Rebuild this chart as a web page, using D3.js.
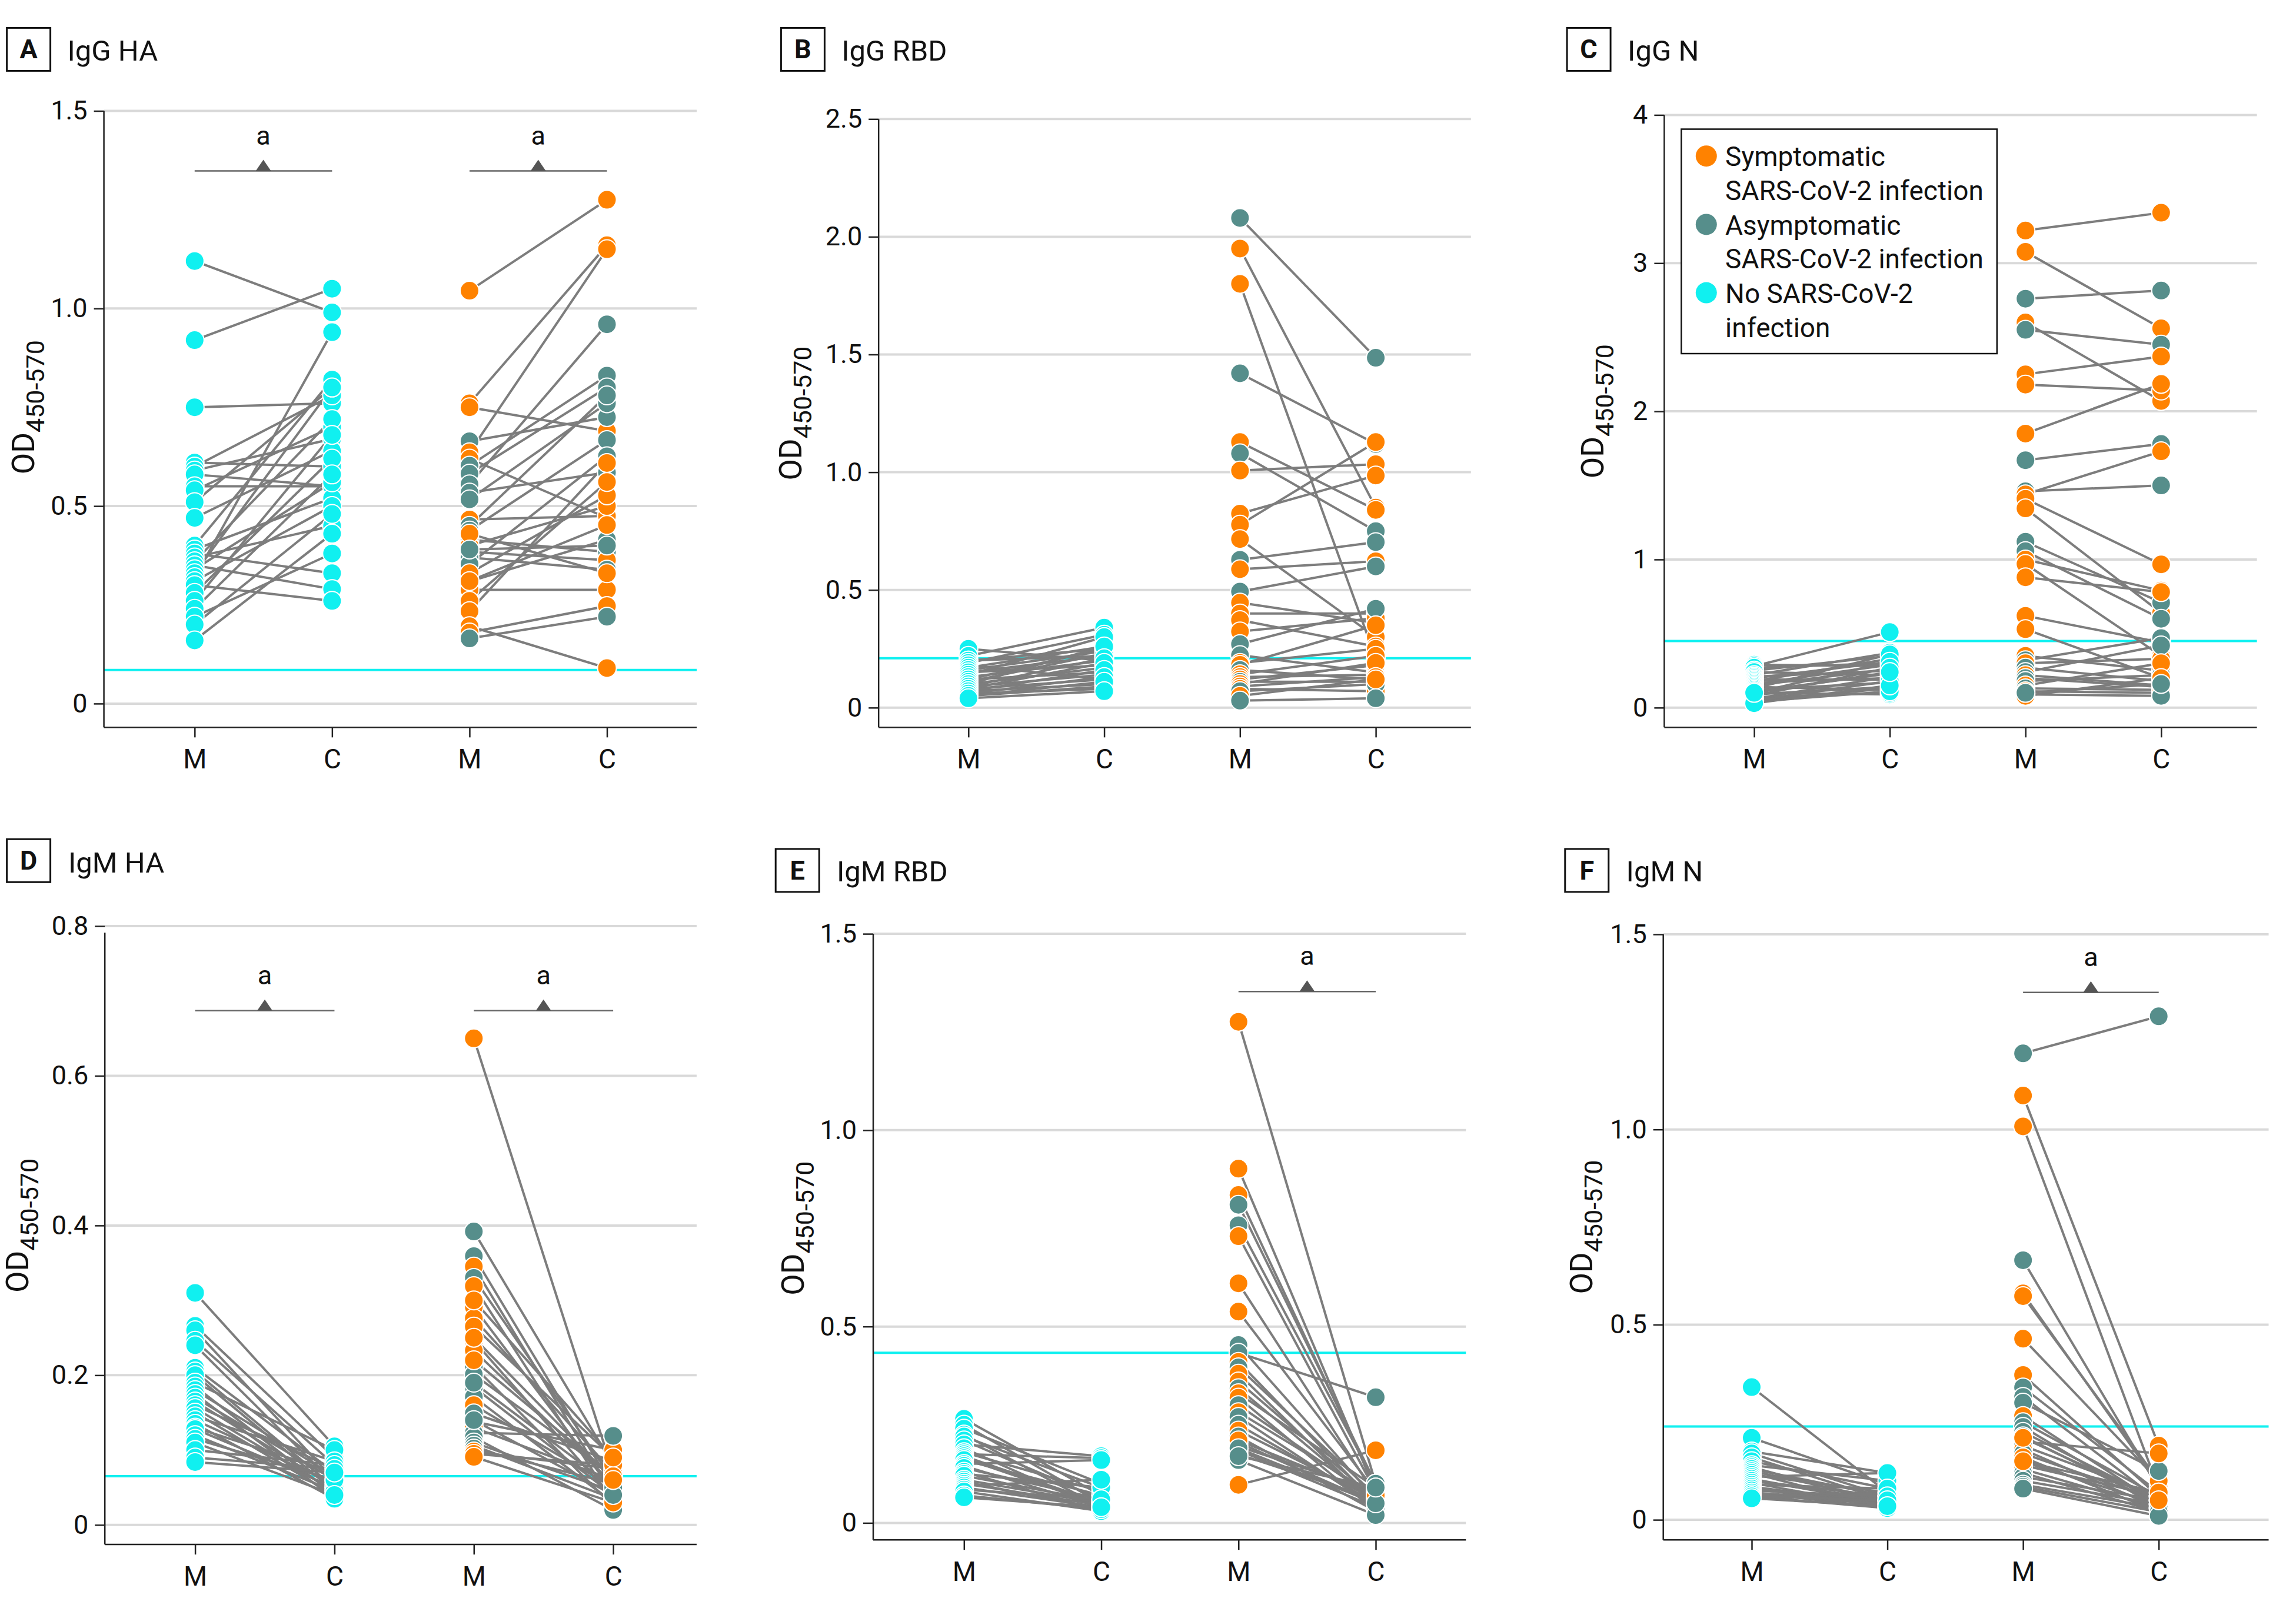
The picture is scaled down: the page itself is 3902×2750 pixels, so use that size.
<!DOCTYPE html>
<html><head><meta charset="utf-8">
<script src="https://cdn.jsdelivr.net/npm/d3@7"></script>
<style>body{margin:0;background:#fff} text{font-family:Roboto,"Noto Sans",sans-serif}</style>
</head><body><svg id="chart" width="3902" height="2750"></svg>
<script>
// ---------------- DATA ----------------
const panelLetters = ["A","B","C","D","E","F"];
const panelTitles = ["IgG HA","IgG RBD","IgG N","IgM HA","IgM RBD","IgM N"];
const yMaxes = [1.5, 2.5, 4, 0.8, 1.5, 1.5];
const yTickValues = [[0,0.5,1,1.5],[0,0.5,1,1.5,2,2.5],[0,1,2,3,4],[0,0.2,0.4,0.6,0.8],[0,0.5,1,1.5],[0,0.5,1,1.5]];
const cutoffs = [0.085, 0.21, 0.45, 0.065, 0.433, 0.239];
const sigLeft = [true,false,false,true,false,false];
const sigRight = [true,false,false,true,true,true];
const sigLevels = [1.348, null, null, 0.687, 1.353, 1.351];
const xCategories = ["M1","C1","M2","C2"];
const xLabels = ["M","C","M","C"];
const legendLabels = [["Symptomatic","SARS-CoV-2 infection"],["Asymptomatic","SARS-CoV-2 infection"],["No SARS-CoV-2","infection"]];
const legendGroups = ["S","A","N"];

// A IgG HA
const aNoM = [1.12,0.92,0.75,0.61,0.60,0.59,0.58,0.55,0.54,0.51,0.47,0.40,0.39,0.38,0.37,0.36,0.35,0.34,0.33,0.32,0.31,0.30,0.28,0.26,0.24,0.22,0.20,0.16];
const aNoC = [0.99,1.05,0.76,0.60,0.78,0.67,0.55,0.55,0.70,0.80,0.64,0.82,0.52,0.33,0.45,0.72,0.29,0.56,0.80,0.94,0.50,0.26,0.62,0.68,0.58,0.38,0.48,0.43];
const aInfM = [1.045,0.76,0.75,0.664,0.636,0.62,0.602,0.582,0.555,0.534,0.517,0.466,0.45,0.438,0.415,0.40,0.384,0.37,0.353,0.33,0.309,0.288,0.26,0.234,0.196,0.18,0.165,0.43,0.39,0.31];
const aInfC = [1.275,1.16,0.69,0.725,1.15,0.47,0.83,0.80,0.96,0.585,0.76,0.475,0.78,0.667,0.384,0.50,0.363,0.339,0.626,0.527,0.415,0.288,0.561,0.609,0.09,0.247,0.22,0.33,0.40,0.452];
const aInfG = ["S","S","S","A","S","S","A","A","A","A","A","S","A","A","A","S","S","A","A","S","A","S","S","S","S","S","A","S","A","S"];
// B IgG RBD
const bNoM = [0.25,0.22,0.20,0.20,0.19,0.18,0.17,0.16,0.15,0.15,0.14,0.13,0.12,0.12,0.11,0.10,0.10,0.09,0.09,0.08,0.08,0.07,0.07,0.06,0.06,0.05,0.05,0.04];
const bNoC = [0.20,0.34,0.22,0.25,0.31,0.12,0.26,0.24,0.22,0.18,0.30,0.20,0.25,0.15,0.23,0.17,0.26,0.21,0.14,0.12,0.19,0.10,0.16,0.08,0.13,0.09,0.11,0.07];
const bInfM = [2.08,1.95,1.80,1.42,1.128,1.08,1.007,0.824,0.777,0.716,0.628,0.588,0.493,0.446,0.40,0.372,0.324,0.27,0.223,0.19,0.182,0.16,0.142,0.13,0.12,0.11,0.101,0.09,0.08,0.07,0.05,0.03];
const bInfC = [1.486,0.85,0.21,1.12,0.84,0.75,1.034,0.986,1.128,0.30,0.703,0.622,0.60,0.36,0.40,0.26,0.38,0.42,0.15,0.25,0.35,0.12,0.22,0.14,0.18,0.11,0.19,0.13,0.07,0.10,0.12,0.04];
const bInfG = ["A","S","S","A","S","A","S","S","S","S","A","S","A","S","S","S","S","A","A","S","S","A","S","S","S","A","S","S","S","A","S","A"];
// C IgG N
const cNoM = [0.29,0.28,0.27,0.25,0.24,0.22,0.21,0.20,0.19,0.18,0.17,0.16,0.15,0.14,0.13,0.12,0.11,0.10,0.10,0.09,0.08,0.07,0.06,0.05,0.05,0.04,0.03,0.10];
const cNoC = [0.28,0.51,0.30,0.35,0.22,0.37,0.25,0.31,0.19,0.33,0.20,0.29,0.26,0.12,0.36,0.17,0.23,0.09,0.31,0.14,0.27,0.10,0.21,0.18,0.13,0.11,0.15,0.24];
const cInfM = [3.22,3.076,2.76,2.60,2.55,2.25,2.18,1.85,1.67,1.46,1.44,1.41,1.345,1.12,1.056,1.0,0.97,0.88,0.62,0.53,0.35,0.32,0.30,0.27,0.24,0.22,0.20,0.18,0.15,0.13,0.11,0.09,0.08,0.10];
const cInfC = [3.34,2.56,2.815,2.07,2.45,2.37,2.14,2.185,1.78,1.50,1.73,0.967,0.64,0.71,0.60,0.79,0.35,0.78,0.44,0.20,0.25,0.47,0.33,0.18,0.42,0.15,0.14,0.22,0.30,0.12,0.10,0.08,0.20,0.16];
const cInfG = ["S","S","A","S","A","S","S","S","A","A","S","S","S","A","A","S","S","S","S","S","S","A","S","A","A","S","A","A","S","A","S","A","S","A"];
// D IgM HA
const dNoM = [0.31,0.266,0.26,0.246,0.24,0.21,0.205,0.20,0.19,0.185,0.18,0.175,0.17,0.165,0.16,0.156,0.15,0.145,0.14,0.135,0.13,0.128,0.12,0.115,0.11,0.10,0.09,0.084];
const dNoC = [0.105,0.09,0.06,0.08,0.055,0.07,0.05,0.045,0.1,0.04,0.065,0.035,0.06,0.05,0.075,0.045,0.04,0.085,0.055,0.035,0.07,0.05,0.045,0.06,0.04,0.08,0.075,0.07];
const dInfM = [0.65,0.392,0.359,0.345,0.33,0.319,0.291,0.276,0.265,0.246,0.233,0.212,0.201,0.184,0.171,0.16,0.149,0.138,0.13,0.123,0.117,0.11,0.106,0.102,0.098,0.095,0.091,0.19,0.22,0.14,0.25,0.30];
const dInfC = [0.07,0.08,0.05,0.04,0.06,0.03,0.045,0.07,0.09,0.035,0.055,0.025,0.065,0.04,0.03,0.05,0.085,0.10,0.06,0.119,0.02,0.045,0.035,0.055,0.075,0.08,0.03,0.05,0.065,0.04,0.06,0.09];
const dInfG = ["S","A","A","S","A","S","S","S","S","S","S","A","A","A","A","S","A","S","S","A","A","A","A","A","S","S","S","A","S","A","S","S"];
// E IgM RBD
const eNoM = [0.265,0.25,0.24,0.225,0.22,0.21,0.2,0.19,0.18,0.175,0.17,0.165,0.16,0.15,0.145,0.14,0.13,0.125,0.12,0.11,0.105,0.1,0.095,0.09,0.085,0.08,0.07,0.065];
const eNoC = [0.07,0.05,0.1,0.04,0.09,0.06,0.17,0.035,0.08,0.165,0.05,0.045,0.07,0.16,0.04,0.06,0.03,0.09,0.055,0.05,0.035,0.045,0.11,0.04,0.06,0.03,0.035,0.04];
const eInfM = [1.276,0.902,0.835,0.81,0.758,0.73,0.61,0.538,0.453,0.433,0.41,0.396,0.38,0.36,0.343,0.33,0.319,0.30,0.282,0.27,0.25,0.235,0.22,0.205,0.195,0.185,0.175,0.16,0.097,0.21,0.19,0.17];
const eInfC = [0.10,0.08,0.09,0.10,0.10,0.08,0.07,0.08,0.06,0.32,0.05,0.07,0.04,0.06,0.05,0.09,0.03,0.06,0.07,0.04,0.05,0.06,0.03,0.05,0.08,0.04,0.06,0.02,0.185,0.07,0.05,0.09];
const eInfG = ["S","S","S","A","A","S","S","S","A","A","S","A","S","S","A","S","S","A","S","A","A","S","A","A","A","A","A","A","S","S","A","A"];
// F IgM N
const fNoM = [0.34,0.21,0.175,0.17,0.16,0.15,0.14,0.135,0.13,0.125,0.12,0.115,0.11,0.105,0.10,0.10,0.095,0.09,0.085,0.08,0.08,0.075,0.07,0.07,0.065,0.06,0.06,0.055];
const fNoC = [0.07,0.09,0.12,0.06,0.05,0.08,0.10,0.04,0.06,0.05,0.03,0.07,0.12,0.04,0.05,0.06,0.03,0.08,0.04,0.05,0.035,0.06,0.03,0.045,0.04,0.03,0.05,0.035];
const fInfM = [1.195,1.087,1.008,0.665,0.58,0.573,0.464,0.371,0.339,0.315,0.30,0.266,0.25,0.238,0.225,0.214,0.20,0.19,0.18,0.17,0.16,0.149,0.14,0.13,0.12,0.11,0.10,0.09,0.085,0.08,0.15,0.21];
const fInfC = [1.29,0.19,0.08,0.08,0.09,0.10,0.10,0.06,0.07,0.05,0.125,0.04,0.06,0.03,0.05,0.04,0.17,0.06,0.03,0.05,0.02,0.04,0.06,0.03,0.02,0.05,0.04,0.03,0.02,0.01,0.07,0.05];
const fInfG = ["A","S","S","A","S","S","S","S","A","A","A","S","A","A","A","A","S","A","S","A","S","A","A","S","A","A","A","A","A","A","S","S"];

const noM = [aNoM,bNoM,cNoM,dNoM,eNoM,fNoM];
const noC = [aNoC,bNoC,cNoC,dNoC,eNoC,fNoC];
const infM = [aInfM,bInfM,cInfM,dInfM,eInfM,fInfM];
const infC = [aInfC,bInfC,cInfC,dInfC,eInfC,fInfC];
const infG = [aInfG,bInfG,cInfG,dInfG,eInfG,fInfG];

// ---------------- LAYOUT / STYLE ----------------
const layouts = [
 {axisX:176.6, yTop:188.5, spineTop:188.5, y0:1195.9, xAxisY:1236.3, right:1184, xFirst:330.8, xLast:1031.5, boxX:11.6, boxY:47.4, titleX:114.4, titleY:103.3, yTitleX:58},
 {axisX:1493.2, yTop:202.3, spineTop:202.3, y0:1202.8, xAxisY:1236.3, right:2499.8, xFirst:1645.8, xLast:2338.1, boxX:1327.4, boxY:47.4, titleX:1430.2, titleY:103.3, yTitleX:1362},
 {axisX:2828.4, yTop:195.4, spineTop:195.4, y0:1202.8, xAxisY:1236.3, right:3835.6, xFirst:2981.1, xLast:3672.8, boxX:2663.1, boxY:47.4, titleX:2766.1, titleY:103.3, yTitleX:2724.6},
 {axisX:178.2, yTop:1574, spineTop:1585.3, y0:2591.8, xAxisY:2625.1, right:1183.9, xFirst:331.6, xLast:1042.1, boxX:11.6, boxY:1426.3, titleX:116, titleY:1483.1, yTitleX:48.1},
 {axisX:1484, yTop:1587.1, spineTop:1587.1, y0:2588.4, xAxisY:2617.2, right:2491.3, xFirst:1638.3, xLast:2338, boxX:1318.2, boxY:1442.9, titleX:1421.9, titleY:1498, yTitleX:1366.3},
 {axisX:2826.7, yTop:1588, spineTop:1588, y0:2583.1, xAxisY:2617.2, right:3855.5, xFirst:2977, xLast:3668.7, boxX:2659.8, boxY:1442.9, titleX:2763.6, titleY:1498, yTitleX:2706.3}
];
const legendBox = {x:2857.4, y:219.5, w:536.4, h:381.5, circleX:2899.8, textX:2932.1, firstCircleY:265.2, firstBaseline:282.4, lineStep:57.7, entryStep:116.2};
const colors = {S:"#ff8200", A:"#568e8b", N:"#10f0f0"};
const cutoffColor = "#10f0f0";
const R = 16;

const svg = d3.select("#chart");
svg.append("rect").attr("width",3902).attr("height",2750).attr("fill","#fff");

panelLetters.forEach((letter, p) => {
  const L = layouts[p];
  const g = svg.append("g");
  const y = d3.scaleLinear().domain([0, yMaxes[p]]).range([L.y0, L.yTop]);
  const x = d3.scalePoint().domain(xCategories).range([L.xFirst, L.xLast]);
  const fmt = v => v === 0 ? "0" : (Number.isInteger(yMaxes[p]) ? String(v) : v.toFixed(1));

  // gridlines
  g.selectAll(".grid").data(yTickValues[p]).join("line")
    .attr("x1", L.axisX).attr("x2", L.right)
    .attr("y1", d => y(d)).attr("y2", d => y(d))
    .attr("stroke", "#d9d9d9").attr("stroke-width", 4);

  // cutoff
  g.append("line").attr("x1", L.axisX).attr("x2", L.right)
    .attr("y1", y(cutoffs[p])).attr("y2", y(cutoffs[p]))
    .attr("stroke", cutoffColor).attr("stroke-width", 4);

  // y axis
  const ya = g.append("g").attr("transform", `translate(${L.axisX},0)`)
    .call(d3.axisLeft(y).tickValues(yTickValues[p]).tickFormat(fmt).tickSize(17).tickPadding(11));
  ya.select(".domain").remove();
  ya.selectAll(".tick line").attr("stroke", "#222").attr("stroke-width", 2.5);
  ya.selectAll(".tick text").attr("font-size", 45).attr("fill", "#111").style("font-family", "Roboto");
  g.append("line").attr("x1", L.axisX).attr("x2", L.axisX).attr("y1", L.spineTop).attr("y2", L.xAxisY)
    .attr("stroke", "#222").attr("stroke-width", 2.5);

  // x axis
  const xa = g.append("g").attr("transform", `translate(0,${L.xAxisY})`)
    .call(d3.axisBottom(x).tickFormat((d, i) => xLabels[i]).tickSize(17).tickPadding(20));
  xa.select(".domain").remove();
  xa.selectAll(".tick line").attr("stroke", "#222").attr("stroke-width", 2.5);
  xa.selectAll(".tick text").attr("font-size", 46).attr("fill", "#111").style("font-family", "Roboto");
  g.append("line").attr("x1", L.axisX).attr("x2", L.right).attr("y1", L.xAxisY).attr("y2", L.xAxisY)
    .attr("stroke", "#222").attr("stroke-width", 2.5);

  // y title
  const yc = (L.yTop + L.y0) / 2;
  const yt = g.append("text").attr("transform", `translate(${L.yTitleX},${yc}) rotate(-90)`)
    .attr("text-anchor", "middle").attr("fill", "#111");
  yt.append("tspan").attr("font-size", 53).text("OD");
  yt.append("tspan").attr("font-size", 43).attr("dy", 17).text("450-570");

  // panel label box + title
  g.append("rect").attr("x", L.boxX).attr("y", L.boxY).attr("width", 74).attr("height", 73)
    .attr("fill", "#fff").attr("stroke", "#111").attr("stroke-width", 3);
  g.append("text").attr("x", L.boxX + 37).attr("y", L.boxY + 52).attr("text-anchor", "middle")
    .attr("font-size", 45).attr("font-weight", "bold").attr("fill", "#111").text(letter);
  g.append("text").attr("x", L.titleX).attr("y", L.titleY).attr("font-size", 49).attr("fill", "#111").text(panelTitles[p]);

  // significance brackets
  const sig = (m, c) => {
    const xm = x(m), xc = x(c), yy = y(sigLevels[p]), xmid = (xm + xc) / 2;
    g.append("line").attr("x1", xm).attr("x2", xc).attr("y1", yy).attr("y2", yy)
      .attr("stroke", "#666").attr("stroke-width", 2.5);
    g.append("path").attr("d", `M${xmid-13},${yy} L${xmid},${yy-19} L${xmid+13},${yy} Z`).attr("fill", "#555");
    g.append("text").attr("x", xmid).attr("y", yy - 45).attr("text-anchor", "middle")
      .attr("font-size", 45).attr("fill", "#111").text("a");
  };
  if (sigLeft[p]) sig("M1", "C1");
  if (sigRight[p]) sig("M2", "C2");

  // connecting lines
  const noPairs = noM[p].map((m, i) => ({m, c: noC[p][i], g: "N"}));
  const infPairs = infM[p].map((m, i) => ({m, c: infC[p][i], g: infG[p][i]}));
  g.append("g").selectAll("line").data(noPairs).join("line")
    .attr("x1", x("M1")).attr("x2", x("C1")).attr("y1", d => y(d.m)).attr("y2", d => y(d.c))
    .attr("stroke", "#7d7d7d").attr("stroke-width", 4);
  g.append("g").selectAll("line").data(infPairs).join("line")
    .attr("x1", x("M2")).attr("x2", x("C2")).attr("y1", d => y(d.m)).attr("y2", d => y(d.c))
    .attr("stroke", "#7d7d7d").attr("stroke-width", 4);

  // points
  const pts = [];
  noPairs.forEach(d => { pts.push({x: x("M1"), v: d.m, g: d.g}); });
  noPairs.forEach(d => { pts.push({x: x("C1"), v: d.c, g: d.g}); });
  infPairs.forEach(d => { pts.push({x: x("M2"), v: d.m, g: d.g}); });
  infPairs.forEach(d => { pts.push({x: x("C2"), v: d.c, g: d.g}); });
  g.append("g").selectAll("circle").data(pts).join("circle")
    .attr("cx", d => d.x).attr("cy", d => y(d.v)).attr("r", R)
    .attr("fill", d => colors[d.g]).attr("stroke", "#fff").attr("stroke-width", 2);

  // legend in panel C
  if (p === 2) {
    const B = legendBox;
    const lg = g.append("g");
    lg.append("rect").attr("x", B.x).attr("y", B.y).attr("width", B.w).attr("height", B.h)
      .attr("fill", "#fff").attr("stroke", "#111").attr("stroke-width", 2.5);
    legendLabels.forEach((lines, i) => {
      lg.append("circle").attr("cx", B.circleX).attr("cy", B.firstCircleY + i * B.entryStep).attr("r", 18)
        .attr("fill", colors[legendGroups[i]]);
      lines.forEach((t, j) => {
        lg.append("text").attr("x", B.textX).attr("y", B.firstBaseline + i * B.entryStep + j * B.lineStep)
          .attr("font-size", 46).attr("fill", "#111").text(t);
      });
    });
  }
});
</script></body></html>
